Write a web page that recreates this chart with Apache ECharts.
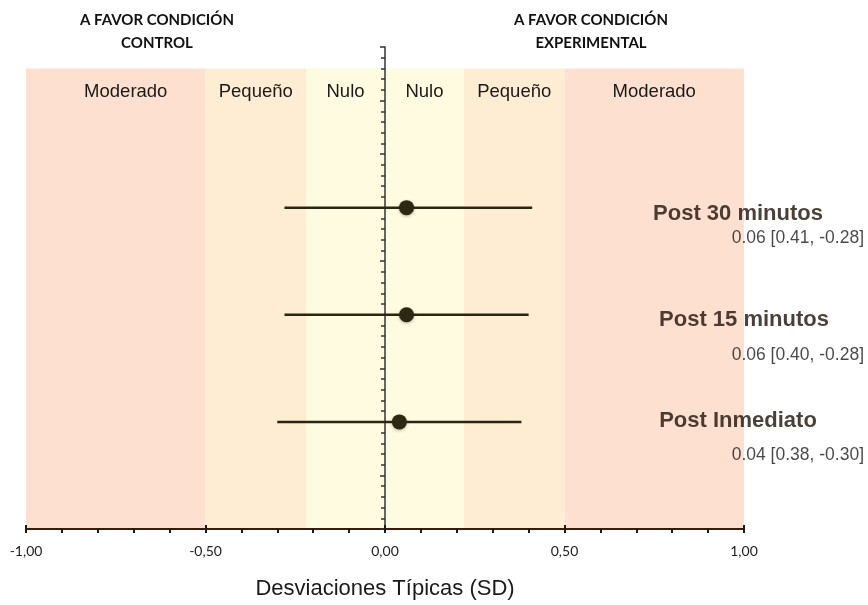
<!DOCTYPE html>
<html><head><meta charset="utf-8">
<script src="https://cdn.jsdelivr.net/npm/echarts@6/dist/echarts.min.js"></script>
<style>html,body{margin:0;padding:0;background:#fff}#c{width:868px;height:605px}</style>
</head><body><div id="c"></div>
<script>
// ---- data ----
const outcomes = ['Post 30 minutos', 'Post 15 minutos', 'Post Inmediato'];
const rowPos = [6, 4, 2];
const estimates = [0.06, 0.06, 0.04];
const ciHigh = [0.41, 0.40, 0.38];
const ciLow = [-0.28, -0.28, -0.30];
const valueTexts = ['0.06 [0.41, -0.28]', '0.06 [0.40, -0.28]', '0.04 [0.38, -0.30]'];
const bandNames = ['Moderado', 'Pequeño', 'Nulo', 'Nulo', 'Pequeño', 'Moderado'];
const bandFrom = [-1, -0.5, -0.22, 0, 0.22, 0.5];
const bandTo = [-0.5, -0.22, 0, 0.22, 0.5, 1];
const bandTop = 8.6;
const xTickValues = [-1, -0.5, 0, 0.5, 1];
const xTickLabels = ['-1,00', '-0,50', '0,00', '0,50', '1,00'];
const headerLeft = 'A FAVOR CONDICIÓN\nCONTROL';
const headerRight = 'A FAVOR CONDICIÓN\nEXPERIMENTAL';
const axisTitle = 'Desviaciones Típicas (SD)';

// ---- styles ----
const bandColors = {Moderado: '#fde0cf', 'Pequeño': '#feedd3', Nulo: '#fefbe0'};
const titleOffsets = [[-6, 6], [0, 5], [-6, -1]];
const valueOffsets = [[120, 31], [120, 40], [120, 33]];
const textColor = '#1e1006';

const chart = echarts.init(document.getElementById('c'));

const bandData = bandNames.map((n, i) => [
  {name: n, xAxis: bandFrom[i], yAxis: 0, itemStyle: {color: bandColors[n]},
   label: {offset: i === 0 ? [10, 0] : [0, 0]}},
  {xAxis: bandTo[i], yAxis: bandTop}
]);

const plainLabel = {textBorderWidth: 0, textBorderColor: 'transparent', textShadowBlur: 0};

const option = {
  animation: false,
  backgroundColor: '#fff',
  grid: {left: 26, right: 124, top: 47, bottom: 69},
  xAxis: [{
    type: 'value', min: -1, max: 1, interval: 0.5, z: 2,
    axisLine: {onZero: false, lineStyle: {color: '#3a1c0c', width: 2}},
    axisTick: {show: true, length: 4, lineStyle: {color: '#1a1a1a', width: 2}},
    minorTick: {show: true, splitNumber: 5, length: 4, lineStyle: {color: '#1a1a1a', width: 2}},
    splitLine: {show: false},
    axisLabel: {
      margin: 15, fontFamily: 'Lato', fontSize: 14, color: '#222',
      formatter: v => { const k = xTickValues.findIndex(t => Math.abs(t - v) < 1e-9); return k >= 0 ? xTickLabels[k] : ''; }
    },
    name: axisTitle, nameLocation: 'middle', nameGap: 49,
    nameTextStyle: {fontFamily: 'Liberation Sans', fontSize: 22, color: '#1a1a1a'}
  }, {
    type: 'value', min: -1, max: 1, interval: 0.5, z: 2, position: 'bottom',
    axisLine: {show: false, onZero: false},
    axisTick: {show: true, inside: true, length: 4, lineStyle: {color: '#1a1a1a', width: 2}},
    axisLabel: {show: false}, splitLine: {show: false}
  }],
  yAxis: [{
    type: 'value', min: 0, max: 9, interval: 1, z: 2,
    axisLine: {show: true, onZero: true, onZeroAxisIndex: 0, lineStyle: {color: '#333', width: 1.5}},
    axisTick: {show: true, length: 5, lineStyle: {color: '#333', width: 1.5}},
    minorTick: {show: true, splitNumber: 5, length: 4, lineStyle: {color: '#333', width: 1.5}},
    axisLabel: {show: false}, splitLine: {show: false}
  }, {
    type: 'value', min: 0, max: 9, interval: 1, z: 2,
    axisLine: {show: false, onZero: true, onZeroAxisIndex: 0},
    axisTick: {show: true, inside: true, length: 5, lineStyle: {color: '#333', width: 1.5}},
    axisLabel: {show: false}, splitLine: {show: false}
  }],
  graphic: [
    {type: 'text', x: 157, y: 9, z: 10, style: {text: headerLeft, textAlign: 'center', fontFamily: 'Lato', fontWeight: 'bold', fontSize: 15, lineHeight: 23, fill: '#111'}},
    {type: 'text', x: 591, y: 9, z: 10, style: {text: headerRight, textAlign: 'center', fontFamily: 'Lato', fontWeight: 'bold', fontSize: 15, lineHeight: 23, fill: '#111'}}
  ],
  series: [
    {
      type: 'scatter', z: 1, data: [], silent: true,
      markArea: {
        silent: true,
        label: Object.assign({show: true, position: 'insideTop', distance: 14, fontFamily: 'Liberation Sans', fontSize: 18.5, color: '#1a1a1a'}, plainLabel),
        data: bandData
      }
    },
    {
      type: 'custom', z: 3,
      encode: {x: [0, 1], y: 2},
      data: outcomes.map((o, i) => [ciLow[i], ciHigh[i], rowPos[i]]),
      renderItem: (params, api) => {
        const a = api.coord([api.value(0), api.value(2)]);
        const b = api.coord([api.value(1), api.value(2)]);
        return {type: 'line', shape: {x1: a[0], y1: a[1], x2: b[0], y2: b[1]},
                style: {stroke: '#2a2710', lineWidth: 2.5}};
      }
    },
    {
      type: 'scatter', z: 4, symbol: 'circle', symbolSize: 15,
      itemStyle: {color: '#2c2912', opacity: 1, shadowBlur: 3, shadowColor: 'rgba(0,0,0,0.3)', shadowOffsetY: 1},
      data: outcomes.map((o, i) => [estimates[i], rowPos[i]])
    },
    {
      type: 'scatter', z: 5, symbolSize: 0, silent: true,
      itemStyle: {color: 'transparent'},
      data: outcomes.map((o, i) => ({value: [1, rowPos[i]], label: {formatter: o, offset: titleOffsets[i]}})),
      label: Object.assign({show: true, position: 'inside', fontFamily: 'Liberation Sans', fontWeight: 'bold', fontSize: 22, color: textColor}, plainLabel)
    },
    {
      type: 'scatter', z: 5, symbolSize: 0, silent: true,
      itemStyle: {color: 'transparent'},
      data: outcomes.map((o, i) => ({value: [1, rowPos[i]], label: {formatter: valueTexts[i], offset: valueOffsets[i]}})),
      label: Object.assign({show: true, position: 'inside', align: 'right', fontFamily: 'Liberation Sans', fontSize: 17.5, color: '#1a1a1a'}, plainLabel)
    }
  ]
};
chart.setOption(option);
</script>
</body></html>
